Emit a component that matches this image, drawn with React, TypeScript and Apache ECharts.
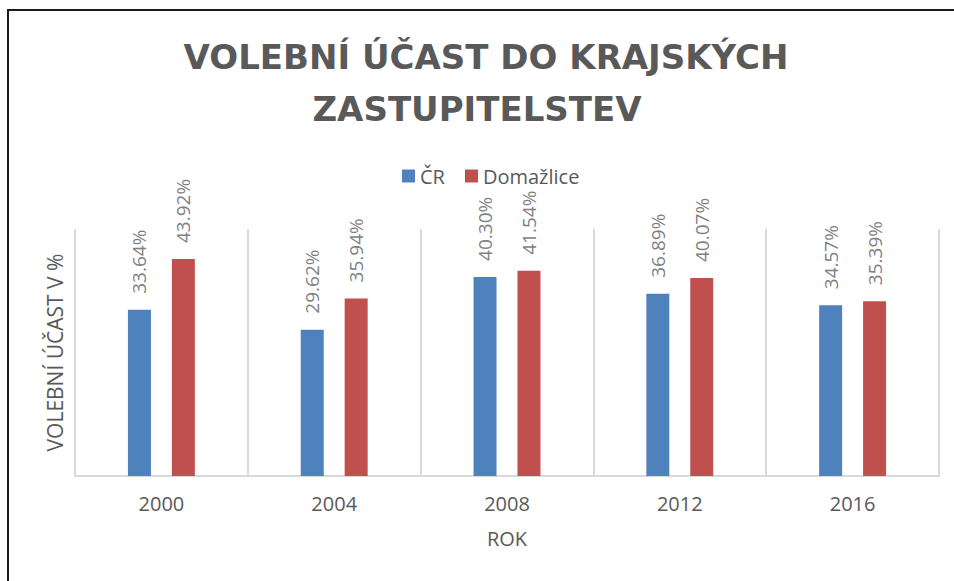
import React, { useEffect, useRef } from "react";
import * as echarts from "echarts";

const years = ["2000", "2004", "2008", "2012", "2016"];
const crValues = [33.64, 29.62, 40.3, 36.89, 34.57];
const domazliceValues = [43.92, 35.94, 41.54, 40.07, 35.39];
const titleLines = ["VOLEBNÍ ÚČAST DO KRAJSKÝCH", "ZASTUPITELSTEV"];

const FONT = "'Open Sans', sans-serif";
const TITLE_FONT = "'DejaVu Sans', sans-serif";
const TEXT = "#595959";

export default function App() {
  const ref = useRef<HTMLDivElement>(null);
  useEffect(() => {
    document.body.style.margin = "0";
    const chart = echarts.init(ref.current!, undefined, { renderer: "svg" });
    const labelCfg = {
      show: true,
      position: "top" as const,
      rotate: 90,
      align: "left" as const,
      verticalAlign: "middle" as const,
      distance: 16,
      color: "#7f7f7f",
      fontSize: 19,
      fontFamily: FONT,
      formatter: (p: any) => p.value.toFixed(2) + "%",
    };
    chart.setOption({
      animation: false,
      backgroundColor: "#fff",
      textStyle: { fontFamily: FONT },
      graphic: [
        {
          type: "rect",
          shape: { x: 8, y: 10, width: 1000, height: 700 },
          style: { fill: "none", stroke: "#1a1a1a", lineWidth: 2 },
          silent: true,
        },
        {
          type: "text",
          x: 486,
          y: 57,
          style: {
            text: titleLines[0],
            fill: TEXT,
            font: `bold 34px ${TITLE_FONT}`,
            textAlign: "center",
            textVerticalAlign: "middle",
          },
        },
        {
          type: "text",
          x: 477,
          y: 109,
          style: {
            text: titleLines[1],
            fill: TEXT,
            font: `bold 34px ${TITLE_FONT}`,
            textAlign: "center",
            textVerticalAlign: "middle",
          },
        },
      ],
      legend: {
        left: 397,
        top: 161,
        itemWidth: 13,
        itemHeight: 13,
        itemGap: 20,
        icon: "rect",
        textStyle: { color: TEXT, fontSize: 20, fontFamily: FONT },
        data: ["ČR", "Domažlice"],
      },
      grid: { left: 75, right: 15, top: 229, bottom: 105 },
      xAxis: {
        type: "category",
        data: years,
        name: "ROK",
        nameLocation: "middle",
        nameGap: 52,
        nameTextStyle: { color: TEXT, fontSize: 20, fontFamily: FONT },
        axisLine: { lineStyle: { color: "#d9d9d9", width: 2 } },
        axisTick: { show: false },
        axisLabel: { color: TEXT, fontSize: 20, fontFamily: FONT, margin: 17 },
        splitLine: { show: true, lineStyle: { color: "#d9d9d9", width: 2 } },
      },
      yAxis: {
        type: "value",
        min: 0,
        max: 50,
        interval: 10,
        name: "VOLEBNÍ ÚČAST V %",
        nameLocation: "middle",
        nameGap: 10,
        nameTextStyle: { color: TEXT, fontSize: 21, fontFamily: FONT },
        axisLine: { show: false },
        axisTick: { show: false },
        axisLabel: { show: false },
        splitLine: { show: false },
      },
      series: [
        {
          name: "ČR",
          type: "bar",
          data: crValues,
          barWidth: 23,
          barGap: "91%",
          itemStyle: { color: "#4f81bd" },
          label: labelCfg,
        },
        {
          name: "Domažlice",
          type: "bar",
          data: domazliceValues,
          barWidth: 23,
          itemStyle: { color: "#c0504d" },
          label: labelCfg,
        },
      ],
    });
    return () => chart.dispose();
  }, []);
  return <div ref={ref} style={{ width: 954, height: 581 }} />;
}
